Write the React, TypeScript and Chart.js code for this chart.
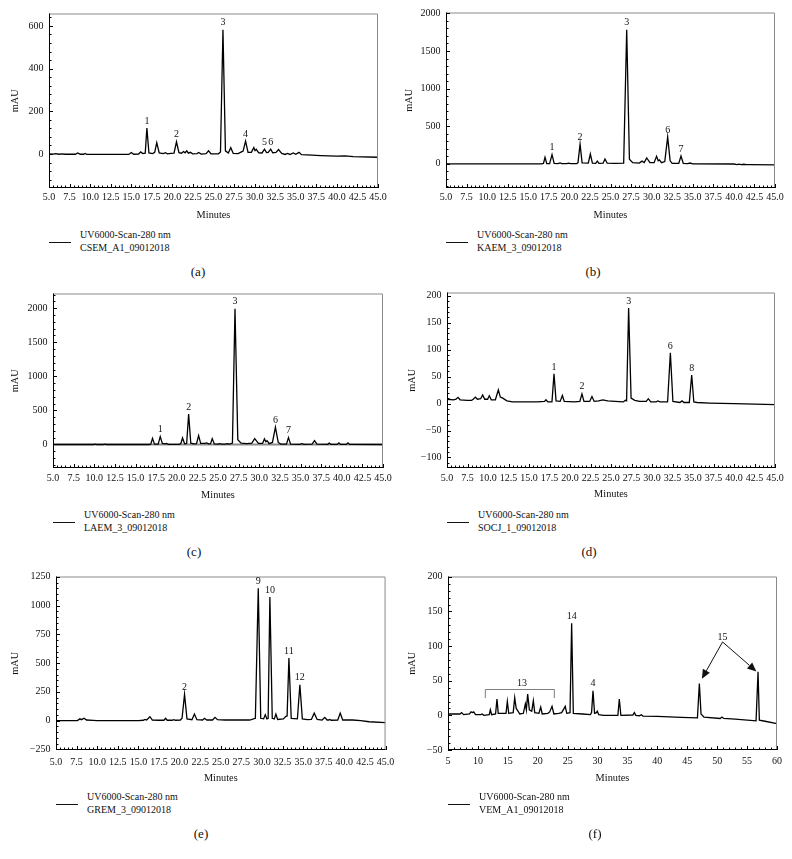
import React, { useEffect, useRef } from 'react';
import { Chart, registerables } from 'chart.js';
Chart.register(...registerables);

const SERIF = '"Liberation Serif", "DejaVu Serif", serif';

// ---------- data (retention time in minutes, absorbance in mAU) ----------
const traceA: [number, number][] = [
  [5, 1], [5.5, 0], [5.8, 2], [6.2, -1], [6.6, 1], [7, -1], [8.2, -1], [8.5, 5], [8.8, -1], [9.2, -1], [9.4, 3], [9.6, -2],
  [14.7, -2], [15.0, 7], [15.3, -1], [15.9, 0], [16.15, 10], [16.4, 2], [16.7, 4], [16.9, 122], [17.15, 5], [17.6, 2],
  [17.85, 8], [18.1, 53], [18.4, 5], [18.9, 2], [19.15, 6], [19.4, 1], [19.8, 3], [20.2, 4], [20.5, 57], [20.8, 6],
  [21.1, 4], [21.35, 12], [21.55, 6], [21.75, 15], [21.95, 4], [22.2, 8], [22.45, 1], [23.0, 2], [23.2, 7], [23.5, 0],
  [24.1, 2], [24.4, 15], [24.7, 1], [25.6, 1], [25.85, 10], [26.15, 582], [26.45, 15], [26.8, 5], [27.1, 30], [27.4, 3],
  [28.0, 2], [28.4, 10], [28.6, 14], [28.9, 61], [29.2, 8], [29.6, 8], [29.9, 30], [30.05, 16], [30.2, 22], [30.5, 6],
  [30.9, 5], [31.2, 23], [31.45, 7], [31.65, 8], [31.95, 23], [32.2, 6], [32.6, 8], [32.9, 21], [33.3, 3], [33.7, -2],
  [34.0, 3], [34.3, -2], [34.7, 5], [35.0, -1], [35.4, 8], [35.7, -3], [37, -5], [38, -7], [40, -10], [41, -9], [42, -12], [45, -15],
];
const traceB: [number, number][] = [
  [5, 0], [16.6, 0], [16.85, 5], [17.04, 87], [17.25, 3], [17.6, 3], [17.89, 122], [18.15, 5], [18.6, 3], [18.86, 12],
  [19.1, 2], [19.7, 2], [19.9, 8], [20.15, 2], [20.9, 3], [21.05, 15], [21.3, 261], [21.55, 12], [22.3, 8], [22.55, 130],
  [22.8, 10], [23.2, 5], [23.4, 35], [23.6, 5], [24.1, 8], [24.33, 65], [24.6, 8], [25.5, 5], [26.6, 8], [26.97, 1783],
  [27.3, 60], [27.7, 15], [28.5, 10], [28.83, 35], [29.1, 15], [29.4, 78], [29.8, 15], [30.3, 15], [30.6, 100], [30.8, 40],
  [30.94, 52], [31.2, 15], [31.6, 30], [31.95, 356], [32.25, 40], [32.5, 5], [33.3, 5], [33.57, 104], [33.85, 5], [34.4, 2],
  [34.67, 10], [35.0, 0], [40, -3], [40.4, -10], [40.6, -5], [40.9, -12], [41.2, -6], [41.5, -12], [42, -12], [45, -15],
];
const traceC: [number, number][] = [
  [5, 0], [9.9, 0], [10.1, 5], [10.3, 0], [11.1, 0], [11.3, 5], [11.5, 0], [16.6, 0], [16.85, 5], [17.06, 91], [17.3, 5],
  [17.75, 5], [18.0, 115], [18.25, 15], [18.6, 8], [18.76, 15], [19.0, 3], [20.3, 3], [20.5, 15], [20.7, 96], [20.95, 10],
  [21.2, 15], [21.44, 446], [21.7, 20], [22.1, 10], [22.4, 12], [22.65, 130], [22.9, 15], [23.4, 15], [23.6, 22], [23.9, 10],
  [24.1, 12], [24.3, 86], [24.55, 8], [25.0, 5], [25.2, 12], [25.4, 5], [25.9, 5], [26.1, 12], [26.4, 5], [26.75, 20],
  [27.06, 1992], [27.4, 70], [27.8, 20], [28.5, 12], [29.1, 20], [29.45, 86], [29.9, 15], [30.4, 15], [30.63, 82], [30.8, 40],
  [30.95, 55], [31.2, 12], [31.6, 30], [31.96, 254], [32.3, 30], [32.6, 5], [33.3, 5], [33.54, 101], [33.8, 5], [34.9, 2],
  [35.16, 12], [35.4, 2], [36.4, 5], [36.7, 58], [37.0, 5], [38.3, 3], [38.48, 22], [38.7, 2], [39.45, 2], [39.65, 25],
  [39.85, 2], [40.55, 2], [40.75, 25], [40.95, 2], [45, 0],
];
const traceD: [number, number][] = [
  [5, 8], [5.8, 7], [6.1, 8], [6.34, 11.5], [6.6, 7], [7.5, 6], [8.0, 6], [8.2, 8], [8.46, 12], [8.7, 8], [9.1, 9],
  [9.35, 16], [9.6, 8], [9.95, 8], [10.16, 14.5], [10.4, 7], [10.9, 7], [11.26, 25.5], [11.5, 12], [11.8, 10], [12.3, 5],
  [13, 3], [16, 3], [16.9, 4], [17.07, 7], [17.3, 3], [17.8, 3], [18.05, 55], [18.3, 5], [18.8, 4], [19.07, 15], [19.3, 4],
  [20.5, 3], [21.2, 4], [21.46, 18], [21.7, 4], [22.4, 4], [22.68, 13], [22.95, 4], [23.5, 5], [24.0, 7], [24.6, 5],
  [25.5, 4], [26.5, 3], [26.75, 6], [26.9, 5], [27.15, 177], [27.45, 10], [27.9, 6], [28.5, 4], [29.3, 4], [29.55, 9],
  [29.85, 3], [30.5, 3], [30.7, 5], [31.0, 3], [31.9, 3], [32.24, 94], [32.55, 4], [33.4, 2], [33.66, 5], [33.9, 2],
  [34.55, 2], [34.84, 53], [35.1, 3], [35.5, 2], [37, 1], [40, 0], [42.5, -1], [45, -2],
];
const traceE: [number, number][] = [
  [5, 0], [7.6, 0], [7.9, 15], [8.1, 8], [8.4, 20], [8.7, 5], [9.5, 2], [10, 0], [15, 0], [15.6, 3], [15.8, 10], [16.0, 5],
  [16.4, 34], [16.7, 5], [17.5, 3], [18.1, 3], [18.3, 20], [18.5, 3], [19.1, 3], [19.3, 8], [19.5, 3], [20.1, 5], [20.3, 20],
  [20.6, 227], [20.9, 15], [21.5, 8], [21.8, 57], [22.1, 8], [22.8, 5], [23.03, 20], [23.3, 5], [24.0, 5], [24.3, 28],
  [24.6, 8], [25.5, 5], [28.5, 5], [29.2, 20], [29.55, 1150], [29.85, 20], [30.2, 15], [30.4, 51], [30.6, 15], [30.75, 20],
  [30.96, 1074], [31.25, 20], [31.5, 15], [31.69, 57], [31.9, 10], [32.6, 15], [32.9, 37], [33.05, 40], [33.27, 545],
  [33.55, 20], [34.3, 15], [34.6, 312], [34.9, 15], [35.5, 8], [36.0, 10], [36.34, 65], [36.7, 10], [37.3, 5], [37.63, 28],
  [37.9, 5], [38.1, 5], [38.24, 10], [38.4, 3], [39.2, 5], [39.5, 65], [39.8, 5], [41, 5], [42, 0], [43, -10], [45, -17],
];
const traceF: [number, number][] = [
  [5, 2], [7, 2], [7.28, 4], [7.6, 1], [8.6, 2], [8.85, 5], [9.1, 4], [9.3, 5], [9.6, 1], [10.5, 1], [10.7, 2], [11.0, 0],
  [11.9, 1], [12.08, 8], [12.3, 1], [12.95, 2], [13.19, 23.6], [13.4, 3], [14.7, 3], [14.92, 20], [15.15, 3], [15.9, 4],
  [16.15, 25.5], [16.4, 10], [16.7, 6], [17.0, 2], [17.6, 3], [17.93, 16.5], [18.1, 8], [18.32, 30.7], [18.6, 8], [19.0, 6],
  [19.27, 21], [19.5, 4], [20.2, 3], [20.5, 12], [20.75, 2], [21.7, 3], [22.0, 5], [22.39, 13], [22.7, 2], [23.5, 3],
  [24.0, 4], [24.6, 13], [24.85, 3], [25.4, 4], [25.67, 133], [25.95, 3], [27.5, 2], [28.8, 1], [29.0, 4], [29.24, 35.4],
  [29.5, 3], [29.8, 4], [29.96, 6], [30.2, 1], [31, 0], [33.4, 0], [33.64, 23.6], [33.9, 0], [35.9, 0.5], [36.15, 4],
  [36.4, 0], [37, -0.5], [37.3, 1], [37.6, -1], [40, -1.5], [44, -3], [46.7, -3.5], [47.02, 46], [47.3, 2], [47.8, -2.5],
  [50.5, -4.5], [50.8, -2.5], [51.1, -4.5], [53, -5.5], [56.5, -8], [56.83, 63], [57.05, -7], [58, -8.5], [60, -12],
];

const peakTextA = ['1', '2', '3', '4', '5', '6'];
const peakTimeA = [16.9, 20.5, 26.15, 28.9, 31.2, 31.95];
const peakValA = [122, 57, 582, 61, 23, 23];
const peakTextB = ['1', '2', '3', '6', '7'];
const peakTimeB = [17.89, 21.3, 26.97, 31.95, 33.57];
const peakValB = [122, 261, 1783, 356, 104];
const peakTextC = ['1', '2', '3', '6', '7'];
const peakTimeC = [18.0, 21.44, 27.06, 31.96, 33.54];
const peakValC = [115, 446, 1992, 254, 101];
const peakTextD = ['1', '2', '3', '6', '8'];
const peakTimeD = [18.05, 21.46, 27.15, 32.24, 34.84];
const peakValD = [55, 18, 177, 94, 53];
const peakTextE = ['2', '9', '10', '11', '12'];
const peakTimeE = [20.6, 29.55, 30.96, 33.27, 34.6];
const peakValE = [227, 1150, 1074, 545, 312];
const peakTextF = ['14', '4'];
const peakTimeF = [25.67, 29.24];
const peakValF = [133, 35.4];

const bracket13Times = [11.24, 22.78];
const bracket13Values = [37.8, 25];
const label13At = [17.37, 46.5];
const label15At = [50.9, 113];
const arrow15From = [50.9, 106];
const arrow15Tips: [number, number][] = [[47.45, 53], [56.55, 63.5]];

const xTicks45 = [5, 7.5, 10, 12.5, 15, 17.5, 20, 22.5, 25, 27.5, 30, 32.5, 35, 37.5, 40, 42.5, 45];
const xTicks60 = [5, 10, 15, 20, 25, 30, 35, 40, 45, 50, 55, 60];
const yTicksA = [0, 200, 400, 600];
const yTicksB = [0, 500, 1000, 1500, 2000];
const yTicksC = [0, 500, 1000, 1500, 2000];
const yTicksD = [-100, -50, 0, 50, 100, 150, 200];
const yTicksE = [-250, 0, 250, 500, 750, 1000, 1250];
const yTicksF = [-50, 0, 50, 100, 150, 200];

const sampleNames = ['CSEM_A1_09012018', 'KAEM_3_09012018', 'LAEM_3_09012018', 'SOCJ_1_09012018', 'GREM_3_09012018', 'VEM_A1_09012018'];
const detectorName = 'UV6000-Scan-280 nm';
const captions = ['(a)', '(b)', '(c)', '(d)', '(e)', '(f)'];

const TXT = '#111';
const FS = 10;

// ---------- drawing helpers ----------
function drawF(ctx: CanvasRenderingContext2D, x: any, y: any) {
  const xl = x.getPixelForValue(bracket13Times[0]);
  const xr = x.getPixelForValue(bracket13Times[1]);
  const yt = Math.round(y.getPixelForValue(bracket13Values[0])) + 0.5;
  const yb = y.getPixelForValue(bracket13Values[1]);
  ctx.strokeStyle = '#7d7d7d';
  ctx.lineWidth = 1;
  ctx.beginPath();
  ctx.moveTo(xl, yb); ctx.lineTo(xl, yt); ctx.lineTo(xr, yt); ctx.lineTo(xr, yb);
  ctx.stroke();
  ctx.textBaseline = 'middle';
  ctx.fillText('13', x.getPixelForValue(label13At[0]), y.getPixelForValue(label13At[1]));
  ctx.fillText('15', x.getPixelForValue(label15At[0]), y.getPixelForValue(label15At[1]));
  const sx = x.getPixelForValue(arrow15From[0]);
  const sy = y.getPixelForValue(arrow15From[1]);
  ctx.strokeStyle = '#111';
  ctx.fillStyle = '#111';
  arrow15Tips.forEach(([tt, tv]) => {
    const tx = x.getPixelForValue(tt);
    const ty = y.getPixelForValue(tv);
    const ang = Math.atan2(ty - sy, tx - sx);
    const len = 9, hw = 4;
    const bx = tx - Math.cos(ang) * len, by = ty - Math.sin(ang) * len;
    ctx.beginPath(); ctx.moveTo(sx, sy); ctx.lineTo(bx, by); ctx.stroke();
    ctx.beginPath();
    ctx.moveTo(tx, ty);
    ctx.lineTo(bx + Math.sin(ang) * hw, by - Math.cos(ang) * hw);
    ctx.lineTo(bx - Math.sin(ang) * hw, by + Math.cos(ang) * hw);
    ctx.closePath(); ctx.fill();
  });
}

const decorPlugin = {
  id: 'decor',
  beforeDatasetsDraw(chart: any, _a: any, o: any) {
    if (!o.zeroLine) return;
    const { ctx, chartArea, scales } = chart;
    const py = scales.y.getPixelForValue(0);
    ctx.save();
    ctx.strokeStyle = '#8c8c8c';
    ctx.lineWidth = 2;
    ctx.beginPath(); ctx.moveTo(chartArea.left, py); ctx.lineTo(chartArea.right, py); ctx.stroke();
    ctx.restore();
  },
  afterDatasetsDraw(chart: any, _a: any, o: any) {
    const { ctx, chartArea, scales } = chart;
    const { left, right, top, bottom } = chartArea;
    const x = scales.x, y = scales.y;
    ctx.save();
    ctx.lineWidth = 1;
    ctx.strokeStyle = '#8a8a8a';
    ctx.beginPath(); ctx.moveTo(left, top + 0.5); ctx.lineTo(right - 0.5, top + 0.5); ctx.lineTo(right - 0.5, bottom); ctx.stroke();
    ctx.strokeStyle = '#000';
    ctx.beginPath(); ctx.moveTo(left + 0.5, top); ctx.lineTo(left + 0.5, bottom - 0.5); ctx.lineTo(right, bottom - 0.5); ctx.stroke();
    ctx.beginPath();
    const nx = Math.round((x.max - x.min) / o.xMinor);
    for (let i = 0; i <= nx; i++) {
      const px = Math.round(x.getPixelForValue(x.min + i * o.xMinor)) + 0.5;
      const len = i % o.xEvery === 0 ? 4 : 2.5;
      ctx.moveTo(px, bottom); ctx.lineTo(px, bottom - len);
    }
    const k0 = Math.ceil(y.min / o.yMinor), k1 = Math.floor(y.max / o.yMinor);
    for (let k = k0; k <= k1; k++) {
      const py = Math.round(y.getPixelForValue(k * o.yMinor)) + 0.5;
      const len = k % o.yEvery === 0 ? 4 : 2.5;
      ctx.moveTo(left, py); ctx.lineTo(left + len, py);
    }
    ctx.stroke();
    ctx.fillStyle = TXT;
    ctx.font = `${FS}px ${SERIF}`;
    ctx.textAlign = 'center';
    ctx.textBaseline = 'bottom';
    o.texts.forEach((t: string, i: number) => {
      ctx.fillText(t, x.getPixelForValue(o.times[i]), y.getPixelForValue(o.values[i]) - 2);
    });
    if (o.extra) o.extra(ctx, x, y);
    ctx.restore();
  },
};

type Panel = {
  trace: [number, number][];
  texts: string[]; times: number[]; values: number[];
  xMax: number; xTicks: number[]; xMinor: number; xEvery: number; xDigits: number;
  yMin: number; yMax: number; yTicks: number[]; yMinor: number; yEvery: number;
  L: number; R: number; T: number; B: number; xPad: number; axisH: number; titlePad: number;
  capX: number; zeroLine?: boolean; extra?: any;
};

const panels: Panel[] = [
  { trace: traceA, texts: peakTextA, times: peakTimeA, values: peakValA, xMax: 45, xTicks: xTicks45, xMinor: 0.5, xEvery: 5, xDigits: 1,
    yMin: -159, yMax: 658, yTicks: yTicksA, yMinor: 40, yEvery: 5, L: 49, R: 378, T: 10, B: 188, xPad: 3.2, axisH: 33, titlePad: 9, capX: 198 },
  { trace: traceB, texts: peakTextB, times: peakTimeB, values: peakValB, xMax: 45, xTicks: xTicks45, xMinor: 0.5, xEvery: 5, xDigits: 1,
    yMin: -322, yMax: 2012, yTicks: yTicksB, yMinor: 100, yEvery: 5, L: 446, R: 775, T: 9, B: 188, xPad: 3.2, axisH: 33, titlePad: 6, capX: 593 },
  { trace: traceC, texts: peakTextC, times: peakTimeC, values: peakValC, xMax: 45, xTicks: xTicks45, xMinor: 0.5, xEvery: 5, xDigits: 1,
    yMin: -345, yMax: 2216, yTicks: yTicksC, yMinor: 100, yEvery: 5, L: 53, R: 383, T: 290, B: 468, xPad: 4.2, axisH: 33, titlePad: 5, capX: 194, zeroLine: true },
  { trace: traceD, texts: peakTextD, times: peakTimeD, values: peakValD, xMax: 45, xTicks: xTicks45, xMinor: 0.5, xEvery: 5, xDigits: 1,
    yMin: -119.5, yMax: 206, yTicks: yTicksD, yMinor: 10, yEvery: 5, L: 447, R: 775, T: 289, B: 468, xPad: 4.2, axisH: 32, titlePad: 8, capX: 589 },
  { trace: traceE, texts: peakTextE, times: peakTimeE, values: peakValE, xMax: 45, xTicks: xTicks45, xMinor: 0.5, xEvery: 5, xDigits: 1,
    yMin: -255.6, yMax: 1252.6, yTicks: yTicksE, yMinor: 50, yEvery: 5, L: 56, R: 386, T: 573, B: 750, xPad: 6.7, axisH: 34, titlePad: 2, capX: 201 },
  { trace: traceF, texts: peakTextF, times: peakTimeF, values: peakValF, xMax: 60, xTicks: xTicks60, xMinor: 1, xEvery: 5, xDigits: 0,
    yMin: -50, yMax: 200.5, yTicks: yTicksF, yMinor: 10, yEvery: 5, L: 448, R: 777, T: 573, B: 750, xPad: 5.8, axisH: 34, titlePad: 7, capX: 595, extra: drawF },
];

const YW = 49, PT = 8, PR = 15;

function fmtY(v: number) {
  return v < 0 ? '\u2212' + Math.abs(v) : String(v);
}

function PanelChart({ p, idx }: { p: Panel; idx: number }) {
  const ref = useRef<HTMLCanvasElement>(null);
  const w = p.R - p.L + YW + PR;
  const h = PT + (p.B - p.T) + p.axisH;
  useEffect(() => {
    const chart = new Chart(ref.current as HTMLCanvasElement, {
      type: 'line',
      data: {
        datasets: [{
          data: p.trace.map(([x, y]) => ({ x, y })),
          borderColor: '#000', borderWidth: 1.3, pointRadius: 0, tension: 0, fill: false,
        }],
      },
      options: {
        animation: false,
        responsive: false,
        events: [],
        layout: { padding: { top: PT, right: PR, left: 0, bottom: 0 } },
        plugins: {
          legend: { display: false },
          tooltip: { enabled: false },
          decor: {
            texts: p.texts, times: p.times, values: p.values,
            xMinor: p.xMinor, xEvery: p.xEvery, yMinor: p.yMinor, yEvery: p.yEvery,
            zeroLine: !!p.zeroLine, extra: p.extra,
          },
        } as any,
        scales: {
          x: {
            type: 'linear', min: 5, max: p.xMax,
            afterBuildTicks: (s: any) => { s.ticks = p.xTicks.map((v) => ({ value: v })); },
            afterFit: (s: any) => { s.height = p.axisH; },
            grid: { display: false, drawTicks: false },
            border: { display: false },
            ticks: {
              autoSkip: false, maxRotation: 0, minRotation: 0, padding: p.xPad, color: TXT,
              font: { family: SERIF, size: FS },
              callback: (v: any) => Number(v).toFixed(p.xDigits),
            },
            title: { display: true, text: 'Minutes', color: TXT, font: { family: SERIF, size: 10.3 }, padding: 0 },
          },
          y: {
            type: 'linear', min: p.yMin, max: p.yMax,
            afterBuildTicks: (s: any) => { s.ticks = p.yTicks.map((v) => ({ value: v })); },
            afterFit: (s: any) => { s.width = YW; },
            grid: { display: false, drawTicks: false },
            border: { display: false },
            ticks: {
              padding: 5.5, color: TXT, font: { family: SERIF, size: FS },
              callback: (v: any) => fmtY(Number(v)),
            },
            title: { display: true, text: 'mAU', color: TXT, font: { family: SERIF, size: 10.3 }, padding: { top: p.titlePad, bottom: 0 } },
          },
        },
      },
      plugins: [decorPlugin as any],
    });
    return () => chart.destroy();
  }, []);
  const l1 = p.B + 47.5;
  return (
    <>
      <canvas ref={ref} width={w} height={h}
        style={{ position: 'absolute', left: p.L - YW, top: p.T - PT, width: w, height: h }} />
      <div style={{ position: 'absolute', left: p.L, top: l1 + 6, width: 22, height: 0, borderTop: '1px solid #111' }} />
      <div style={{ position: 'absolute', left: p.L + 31, top: l1 - 6.5, fontFamily: SERIF, fontSize: FS, lineHeight: '12.8px', color: TXT, whiteSpace: 'pre' }}>
        {detectorName + '\n' + sampleNames[idx]}
      </div>
      <div style={{ position: 'absolute', left: p.capX, top: p.B + 84 - 8, transform: 'translateX(-50%)', fontFamily: SERIF, fontSize: 13, lineHeight: '16px', color: TXT }}>
        {captions[idx]}
      </div>
    </>
  );
}

export default function App() {
  return (
    <div style={{ position: 'absolute', left: 0, top: 0, width: 792, height: 859, background: '#fff', overflow: 'hidden' }}>
      {panels.map((p, i) => <PanelChart key={i} p={p} idx={i} />)}
    </div>
  );
}
